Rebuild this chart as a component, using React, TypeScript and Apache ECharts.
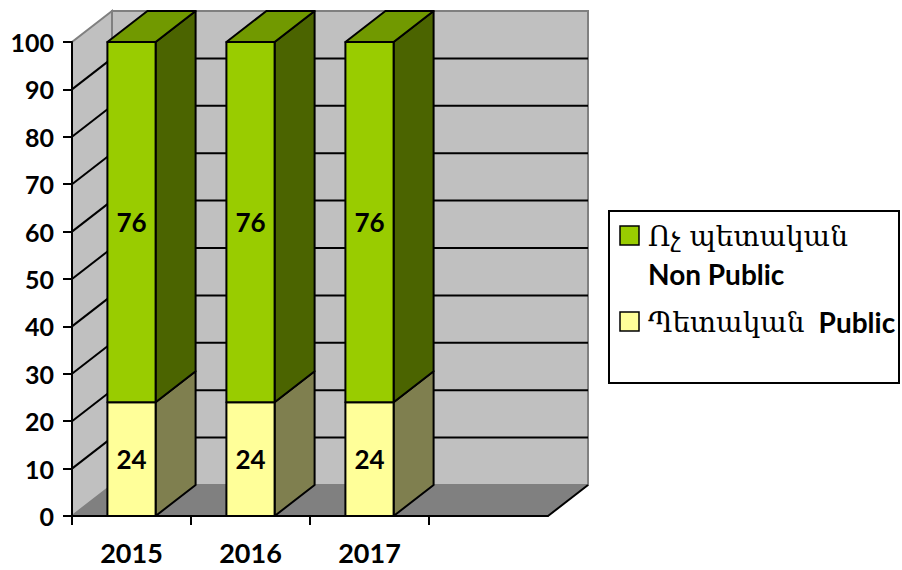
import React, { useEffect, useRef } from "react";
import * as echarts from "echarts";

// ---- data ----
const categories: string[] = ["2015", "2016", "2017", ""];
const publicValues: (number | null)[] = [24, 24, 24, null];
const nonPublicValues: (number | null)[] = [76, 76, 76, null];
const Y_MIN = 0;
const Y_MAX = 100;
const Y_STEP = 10;

const nonPublicNameHy = "Ոչ պետական";
const nonPublicNameEn = "Non Public";
const publicNameHy = "Պետական";
const publicNameEn = "Public";

// ---- style constants ----
const DX = 40;
const DY = -31;
const NUM_FONT = "Lato, 'DejaVu Sans', sans-serif";
const HY_FONT = "'DejaVu Serif', serif";

const publicData = categories
  .map((_, i) => (publicValues[i] == null ? null : [i, 0, publicValues[i] as number, 0]))
  .filter((d) => d !== null) as number[][];
const nonPublicData = categories
  .map((_, i) => {
    const b = publicValues[i];
    const v = nonPublicValues[i];
    if (b == null || v == null) return null;
    return [i, b, b + v, 1];
  })
  .filter((d) => d !== null) as number[][];

function makeBarRenderer(front: string, side: string, top: string) {
  return (params: any, api: any) => {
    const ci = api.value(0);
    const base = api.value(1);
    const tv = api.value(2);
    const isTop = api.value(3) === 1;
    const p0 = api.coord([ci, base]);
    const p1 = api.coord([ci, tv]);
    const band = api.size([1, 0])[0];
    const w = band * 0.405;
    const l = p0[0] - w / 2;
    const r = p0[0] + w / 2;
    const yb = p0[1];
    const yt = p1[1];
    const stroke = { stroke: "#000", lineWidth: 2, lineJoin: "round" };
    const children: any[] = [
      {
        type: "polygon",
        shape: { points: [[r, yb], [r + DX, yb + DY], [r + DX, yt + DY], [r, yt]] },
        style: { fill: side, ...stroke },
      },
    ];
    if (isTop) {
      children.push({
        type: "polygon",
        shape: { points: [[l, yt], [l + DX, yt + DY], [r + DX, yt + DY], [r, yt]] },
        style: { fill: top, ...stroke },
      });
    }
    children.push({
      type: "rect",
      shape: { x: l, y: yt, width: w, height: yb - yt },
      style: { fill: front, ...stroke },
    });
    children.push({
      type: "text",
      style: {
        text: String(tv - base),
        x: p0[0],
        y: (yb + yt) / 2,
        align: "center",
        verticalAlign: "middle",
        fontFamily: NUM_FONT,
        fontWeight: "bold",
        fontSize: 26,
        fill: "#000",
      },
    });
    return { type: "group", children };
  };
}

const renderWalls = (params: any, api: any) => {
  const cs = params.coordSys;
  const x0 = cs.x;
  const x1 = cs.x + cs.width;
  const yb = api.coord([0, Y_MIN])[1];
  const yt = api.coord([0, Y_MAX])[1];
  const children: any[] = [];
  // floor
  children.push({
    type: "polygon",
    shape: { points: [[x0, yb], [x1, yb], [x1 + DX, yb + DY], [x0 + DX, yb + DY]] },
    style: { fill: "#808080", stroke: "#808080", lineWidth: 1 },
  });
  // side wall
  children.push({
    type: "polygon",
    shape: { points: [[x0, yb], [x0 + DX, yb + DY], [x0 + DX, yt + DY], [x0, yt]] },
    style: { fill: "#C0C0C0", stroke: "#808080", lineWidth: 2 },
  });
  // back wall
  children.push({
    type: "rect",
    shape: { x: x0 + DX, y: yt + DY, width: x1 - x0, height: yb - yt },
    style: { fill: "#C0C0C0", stroke: "#808080", lineWidth: 2 },
  });
  // floor right edge
  children.push({
    type: "line",
    shape: { x1: x1, y1: yb, x2: x1 + DX, y2: yb + DY },
    style: { stroke: "#000", lineWidth: 2 },
  });
  // grid lines
  for (let v = Y_MIN + Y_STEP; v < Y_MAX; v += Y_STEP) {
    const y = api.coord([0, v])[1];
    children.push({
      type: "line",
      shape: { x1: x0, y1: y, x2: x0 + DX, y2: y + DY },
      style: { stroke: "#000", lineWidth: 2 },
    });
    children.push({
      type: "line",
      shape: { x1: x0 + DX, y1: y + DY, x2: x1 + DX, y2: y + DY },
      style: { stroke: "#000", lineWidth: 2 },
    });
  }
  // category ticks (boundaries of data categories)
  const band = api.size([1, 0])[0];
  for (let i = 0; i < categories.length; i++) {
    const x = api.coord([i, 0])[0] - band / 2;
    children.push({
      type: "line",
      shape: { x1: x, y1: yb, x2: x, y2: yb + 9 },
      style: { stroke: "#000", lineWidth: 2 },
    });
  }
  return { type: "group", children };
};

export default function App() {
  const ref = useRef<HTMLDivElement>(null);
  useEffect(() => {
    if (!ref.current) return;
    const chart = echarts.init(ref.current, undefined, { renderer: "svg" });
    const option: any = {
      animation: false,
      backgroundColor: "#fff",
      grid: { left: 72, top: 42, right: 354, bottom: 54, containLabel: false },
      xAxis: {
        type: "category",
        data: categories,
        boundaryGap: true,
        z: 10,
        axisLine: { lineStyle: { color: "#000", width: 2 } },
        axisTick: { show: false },
        axisLabel: {
          color: "#000",
          fontFamily: NUM_FONT,
          fontWeight: "bold",
          fontSize: 27,
          margin: 23,
        },
        splitLine: { show: false },
      },
      yAxis: {
        type: "value",
        min: Y_MIN,
        max: Y_MAX,
        interval: Y_STEP,
        z: 10,
        axisLine: { show: true, lineStyle: { color: "#000", width: 2 } },
        axisTick: { show: true, length: 9, lineStyle: { color: "#000", width: 2 } },
        axisLabel: {
          color: "#000",
          fontFamily: NUM_FONT,
          fontWeight: "bold",
          fontSize: 25,
          margin: 18,
        },
        splitLine: { show: false },
      },
      series: [
        {
          type: "custom",
          name: "walls",
          z: 1,
          silent: true,
          renderItem: renderWalls,
          data: [[0, 0]],
          clip: false,
        },
        {
          type: "custom",
          name: publicNameHy + "  " + publicNameEn,
          z: 2,
          renderItem: makeBarRenderer("#FFFF99", "#7F7F4F", "#CCCC7A"),
          encode: { x: 0, y: [1, 2] },
          data: publicData,
        },
        {
          type: "custom",
          name: nonPublicNameHy + " " + nonPublicNameEn,
          z: 3,
          renderItem: makeBarRenderer("#99CC00", "#4B6400", "#719900"),
          encode: { x: 0, y: [1, 2] },
          data: nonPublicData,
        },
      ],
      graphic: [
        {
          type: "rect",
          shape: { x: 609, y: 211, width: 290, height: 172 },
          style: { fill: "#fff", stroke: "#000", lineWidth: 2 },
        },
        {
          type: "rect",
          shape: { x: 620, y: 226, width: 19, height: 19 },
          style: { fill: "#99CC00", stroke: "#000", lineWidth: 1.5 },
        },
        {
          type: "text",
          style: {
            text: nonPublicNameHy,
            x: 648,
            y: 236,
            verticalAlign: "middle",
            fontFamily: HY_FONT,
            fontSize: 28,
            fill: "#000",
          },
        },
        {
          type: "text",
          style: {
            text: nonPublicNameEn,
            x: 648,
            y: 274,
            verticalAlign: "middle",
            fontFamily: NUM_FONT,
            fontWeight: "bold",
            fontSize: 28,
            fill: "#000",
          },
        },
        {
          type: "rect",
          shape: { x: 620, y: 312, width: 19, height: 19 },
          style: { fill: "#FFFF99", stroke: "#000", lineWidth: 1.5 },
        },
        {
          type: "text",
          style: {
            text: "{a|" + publicNameHy + "}{b|" + publicNameEn + "}",
            x: 648,
            y: 322,
            verticalAlign: "middle",
            fill: "#000",
            rich: {
              a: { fontFamily: HY_FONT, fontSize: 28, fill: "#000" },
              b: {
                fontFamily: NUM_FONT,
                fontWeight: "bold",
                fontSize: 28,
                fill: "#000",
                padding: [0, 0, 0, 14],
              },
            },
          },
        },
      ],
    };
    chart.setOption(option);
    return () => chart.dispose();
  }, []);
  return (
    <div
      ref={ref}
      style={{ position: "absolute", left: 0, top: 0, width: 902, height: 570 }}
    />
  );
}
